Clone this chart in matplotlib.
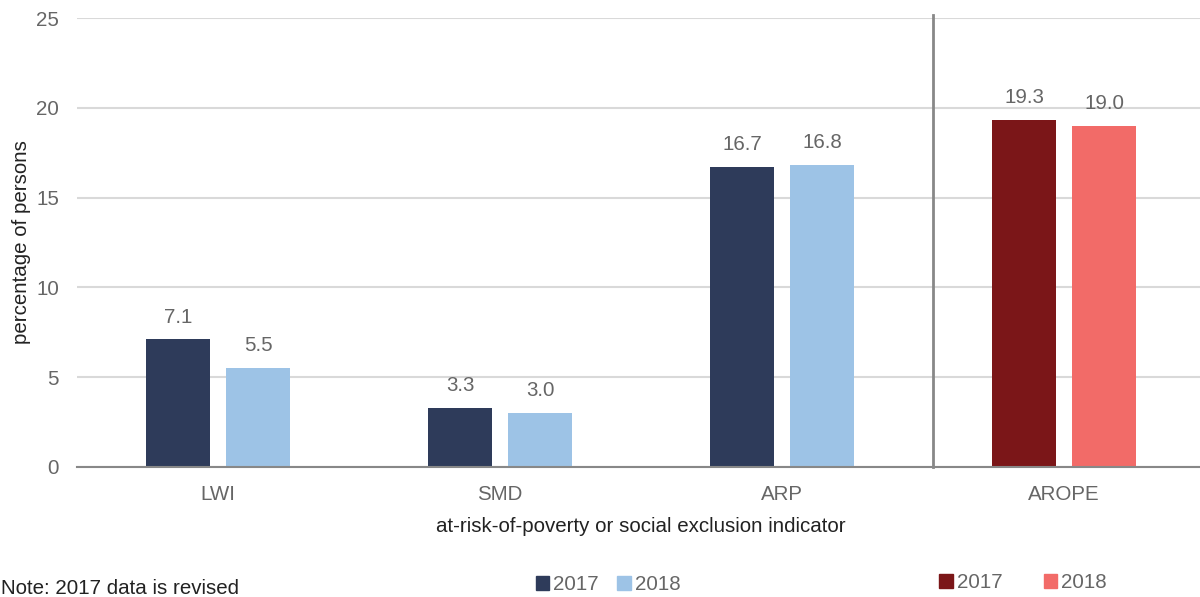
import matplotlib.pyplot as plt
from matplotlib.patches import Patch

plt.rcParams['font.family'] = ['Liberation Sans', 'DejaVu Sans']

categories = ['LWI', 'SMD', 'ARP', 'AROPE']
values_2017 = [7.1, 3.3, 16.7, 19.3]
values_2018 = [5.5, 3.0, 16.8, 19.0]
years = ['2017', '2018']

navy, light_blue = '#2E3B5A', '#9DC3E6'
dark_red, salmon = '#7B1618', '#F26B68'
colors_2017 = [navy, navy, navy, dark_red]
colors_2018 = [light_blue, light_blue, light_blue, salmon]
text_gray = '#666666'
fs = 14.8

W, H = 1200, 597
fig = plt.figure(figsize=(W / 100, H / 100), dpi=100)
ax = fig.add_axes([77 / W, 1 - 467 / H, (1205 - 77) / W, (467 - 18) / H])

x = list(range(len(categories)))
width = 0.224
offset = 0.142
b1 = ax.bar([i - offset for i in x], values_2017, width, color=colors_2017, zorder=3)
b2 = ax.bar([i + offset for i in x], values_2018, width, color=colors_2018, zorder=3)

for bars, vals in ((b1, values_2017), (b2, values_2018)):
    for bar, v in zip(bars, vals):
        ax.text(bar.get_x() + bar.get_width() / 2, v + 0.72, f'{v:.1f}',
                ha='center', va='bottom', fontsize=fs, color=text_gray)

ax.set_xlim(-0.5, 3.5)
ax.set_ylim(0, 25)
ax.set_yticks(range(0, 26, 5))
ax.yaxis.grid(True, color='#D9D9D9', linewidth=1.5, zorder=0)
ax.set_axisbelow(True)
for side in ('top', 'right', 'left'):
    ax.spines[side].set_visible(False)
ax.spines['bottom'].set_color('#888888')
ax.spines['bottom'].set_linewidth(1.5)
ax.spines['bottom'].set_zorder(4)
ax.tick_params(axis='both', length=0, labelsize=fs, colors=text_gray)
ax.tick_params(axis='y', pad=13)
ax.tick_params(axis='x', pad=13)
ax.set_xticks(x)
ax.set_xticklabels(categories)

ax.set_ylabel('percentage of persons', fontsize=fs, color='#222222', labelpad=4)
ax.set_xlabel('at-risk-of-poverty or social exclusion indicator', fontsize=fs,
              color='#222222', labelpad=9)

# separator between component indicators and AROPE
ax.plot([2.535, 2.535], [0, 25.17], color='#888888', linewidth=2,
        clip_on=False, zorder=4)

leg_kw = dict(ncol=2, frameon=False, fontsize=fs, handlelength=0.65,
              handleheight=0.65, handletextpad=0.2, columnspacing=0.9,
              labelcolor=text_gray)
fig.legend([Patch(color=navy), Patch(color=light_blue)], years,
           loc='center', bbox_to_anchor=(608 / W, 1 - 585 / H), **leg_kw)
leg_kw['columnspacing'] = 2.0
fig.legend([Patch(color=dark_red), Patch(color=salmon)], years,
           loc='center', bbox_to_anchor=(1023 / W, 1 - 583 / H), **leg_kw)

fig.text(1 / W, 1 - 579 / H, 'Note: 2017 data is revised', fontsize=fs,
         color='#222222', ha='left', va='top')

fig.savefig('out.png', dpi=100)
